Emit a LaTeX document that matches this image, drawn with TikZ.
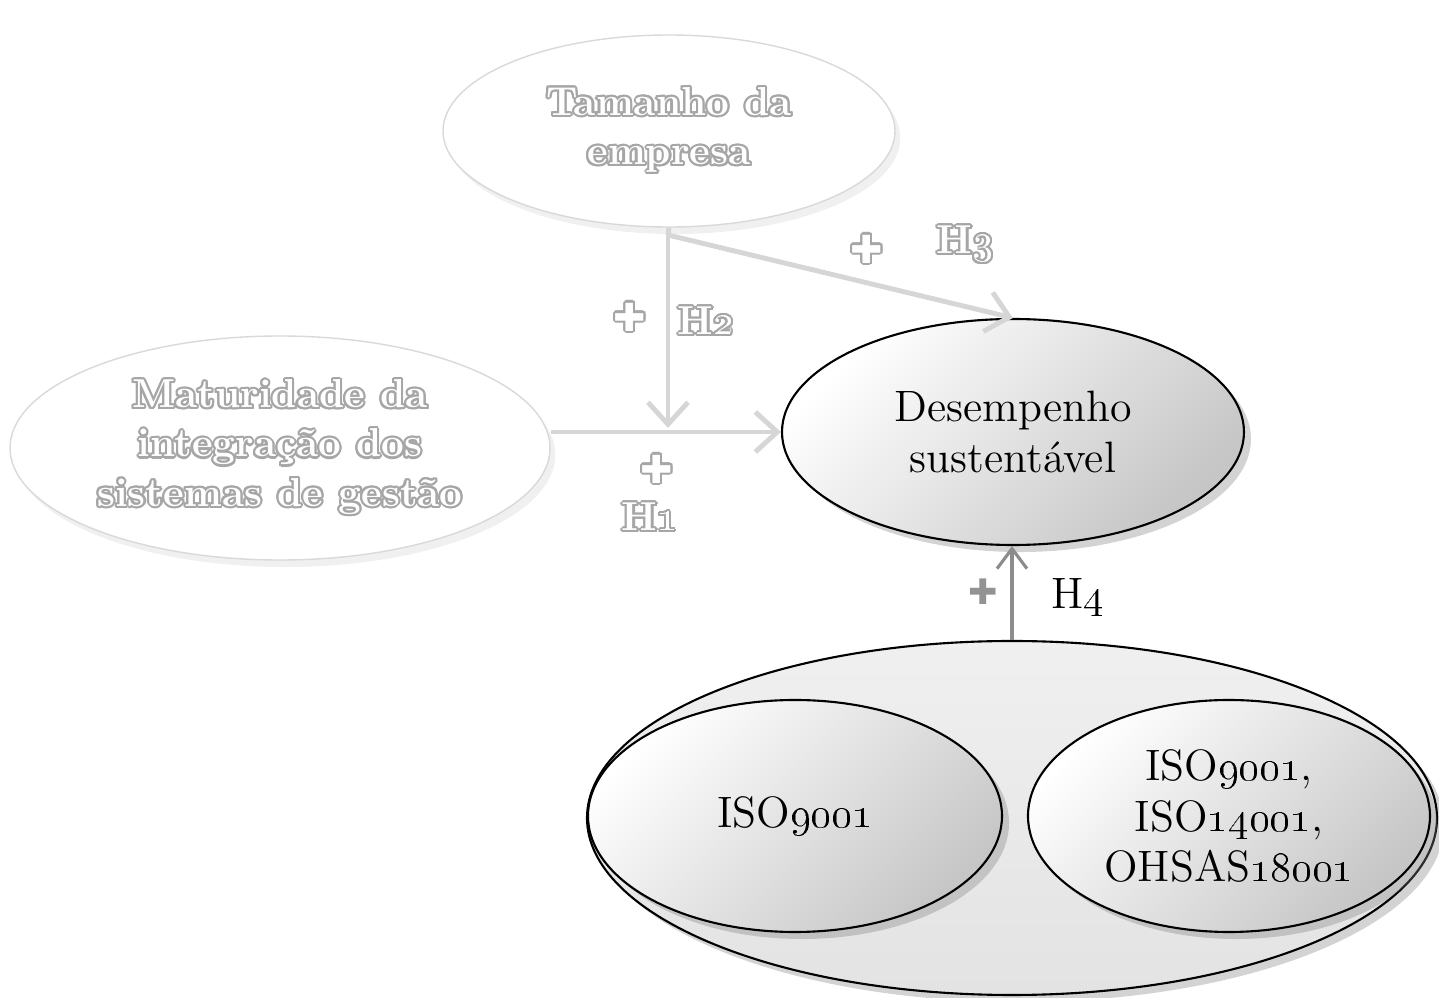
\documentclass[tikz,border=0pt]{standalone}
\usepackage{contour}
\NewCommandCopy\osnums\oldstylenums
\usepackage{fontspec}
\newfontfamily\symbfont{DejaVu Sans}
\usetikzlibrary{shapes.geometric,shadows,arrows.meta}

\contourlength{0.6pt}
\newcommand{\hollow}[1]{\textcolor{white}{\contour{gray!70}{#1}}}

\tikzset{
  fadedellipse/.style={ellipse, draw=gray!30, fill=white, inner sep=0pt, align=center,
    drop shadow={shadow xshift=1.5pt, shadow yshift=-2pt, opacity=0.12},
    font=\fontsize{11.5}{14}\selectfont\bfseries},
  shadedellipse/.style={ellipse, draw=black, line width=0.6pt, inner sep=0pt, align=center,
    top color=white, bottom color=gray!45, shading angle=45,
    drop shadow={shadow xshift=2pt, shadow yshift=-2pt, opacity=0.35},
    font=\fontsize{12.5}{14.5}\selectfont},
  fadedlink/.style={->, >={Straight Barb[length=2.2mm, width=4mm]}, line width=1.4pt, draw=gray!32},
  fadedlabel/.style={font=\fontsize{11.5}{13}\selectfont\bfseries},
  plussign/.style={font=\fontsize{11}{11}\symbfont}
}

\begin{document}
\begin{tikzpicture}
\useasboundingbox (0,0) rectangle (14.39,9.98);

%Tamanho
\node[fadedellipse, minimum width=4.52cm, minimum height=1.92cm] (tamanho) at (6.69,8.67)
  {\hollow{Tamanho da}\\\hollow{empresa}};

%Maturidade
\node[fadedellipse, minimum width=5.40cm, minimum height=2.24cm] (maturidade) at (2.80,5.50)
  {\hollow{Maturidade da}\\\hollow{integração dos}\\\hollow{sistemas de gestão}};

%Desempenho
\node[shadedellipse, minimum width=4.62cm, minimum height=2.26cm] (desempenho) at (10.13,5.66)
  {Desempenho\\sustentável};

%Certificacao
\node[shadedellipse, top color=gray!12, bottom color=gray!22, minimum width=8.50cm, minimum height=3.54cm] (certificacao) at (10.12,1.80) {};

%ISO
\node[shadedellipse, minimum width=4.14cm, minimum height=2.32cm] (iso) at (7.95,1.82)
  {ISO\osnums{9001}};

%Integrado
\node[shadedellipse, minimum width=4.02cm, minimum height=2.32cm] (integrado) at (12.29,1.82)
  {ISO\osnums{9001},\\ISO\osnums{14001},\\OHSAS\osnums{18001}};

%Ramo
\coordinate (ramo) at (6.68,7.63);

%Links
\draw[line width=1.4pt, draw=gray!32] (tamanho.south) -- (ramo);
\draw[fadedlink] (desempenho.west -| maturidade.east) -- (desempenho.west);
\draw[fadedlink, shorten >=0.4mm] (ramo) -- (ramo |- desempenho.west);
\draw[fadedlink] (ramo) -- (desempenho.north);
\draw[->, >={Straight Barb[length=2mm, width=3mm]}, line width=0.9pt, draw=gray!90] (certificacao.north) -- (certificacao.north |- desempenho.south);

%Labels
\node[plussign] (plush1) at (6.57,5.28) {\hollow{✚}};
\node[fadedlabel] (h1) at (6.50,4.80) {\hollow{H\osnums{1}}};
\node[plussign] (plush2) at (6.30,6.80) {\hollow{✚}};
\node[fadedlabel] (h2) at (7.06,6.76) {\hollow{H\osnums{2}}};
\node[plussign] (plush3) at (8.67,7.48) {\hollow{✚}};
\node[fadedlabel] (h3) at (9.65,7.53) {\hollow{H\osnums{3}}};
\node[plussign, font=\fontsize{10}{10}\symbfont, text=gray!85] (plush4) at (9.83,4.06) {✚};
\node[font=\fontsize{12.5}{14}\selectfont] (h4) at (10.78,4.00) {H\osnums{4}};

\end{tikzpicture}
\end{document}
